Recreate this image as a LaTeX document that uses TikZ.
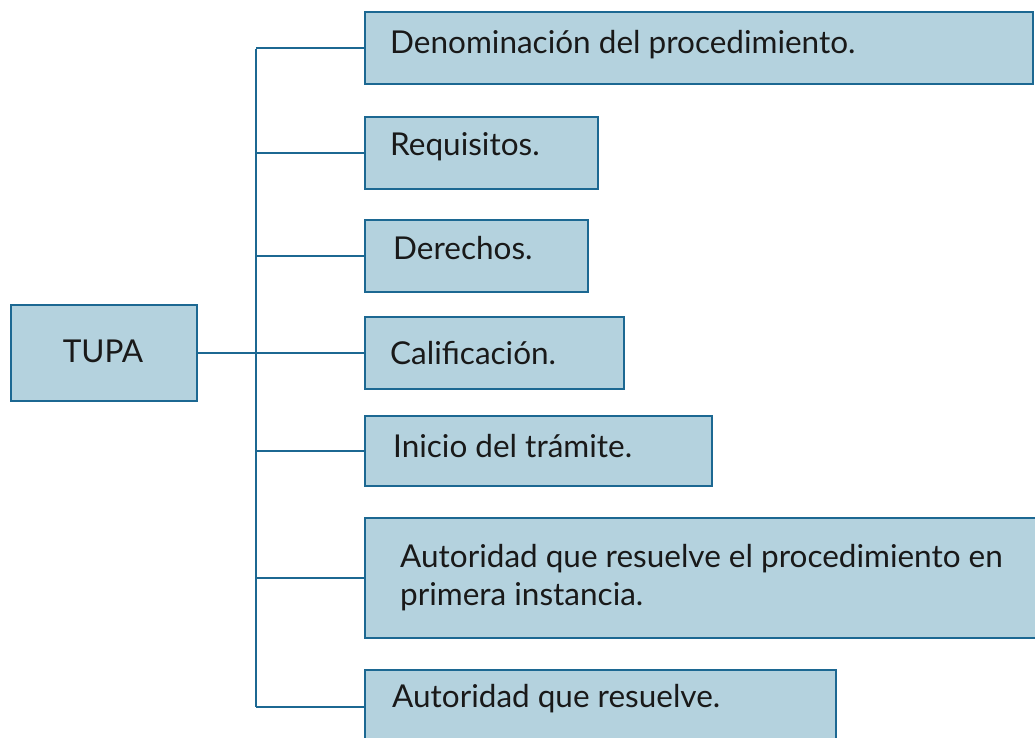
\documentclass[tikz,border=0pt]{standalone}
\usepackage{fontspec}
\setmainfont{Lato}
\definecolor{boxfill}{RGB}{180,210,222}
\definecolor{boxline}{RGB}{28,104,146}
\begin{document}
\begin{tikzpicture}[x=1pt,y=-1pt,
  box/.style={draw=boxline, line width=2.8pt, fill=boxfill, inner sep=0pt, outer sep=0pt, anchor=north west},
  lbl/.style={font=\fontsize{31.5}{38}\selectfont, text=black!90, inner sep=0pt, anchor=base west},
  conn/.style={draw=boxline, line width=2.8pt}]
\useasboundingbox (0,0) rectangle (1035,738);
\clip (0,0) rectangle (1035,738);
\fill[white] (0,0) rectangle (1035,738);
% boxes
\node[box, minimum width=186pt, minimum height=96pt] (tupa) at (11,305) {};
\node[box, minimum width=668pt, minimum height=72pt] (b1) at (365,12) {};
\node[box, minimum width=233pt, minimum height=72pt] (b2) at (365,117) {};
\node[box, minimum width=223pt, minimum height=72pt] (b3) at (365,220) {};
\node[box, minimum width=259pt, minimum height=72pt] (b4) at (365,317) {};
\node[box, minimum width=347pt, minimum height=70pt] (b5) at (365,416) {};
\node[box, minimum width=680pt, minimum height=120pt] (b6) at (365,518) {};
\node[box, minimum width=471pt, minimum height=74pt] (b7) at (365,670) {};
% labels
\node[lbl, anchor=base] (tt) at (103,362) {TUPA};
\node[lbl] (t1) at (390,54) {Denominación del procedimiento.};
\node[lbl] (t2) at (390,156) {Requisitos.};
\node[lbl] (t3) at (393,259) {Derechos.};
\node[lbl] (t4) at (390,364) {Calificación.};
\node[lbl] (t5) at (393,457) {Inicio del trámite.};
\node[lbl] (t6a) at (400,567) {Autoridad que resuelve el procedimiento en};
\node[lbl] (t6b) at (400,605) {primera instancia.};
\node[lbl] (t7) at (392,707) {Autoridad que resuelve.};
% trunk
\coordinate (trtop) at (256,49);
\coordinate (trbot) at (256,707);
\draw[conn] (trtop) -- (trbot);
\draw[conn] (tupa.east) -- (b4.west);
\draw[conn] (b1.west) -- (b1.west -| trtop);
\draw[conn] (b2.west) -- (b2.west -| trtop);
\draw[conn] (b3.west) -- (b3.west -| trtop);
\draw[conn] (b5.west) -- (b5.west -| trtop);
\draw[conn] (b6.west) -- (b6.west -| trtop);
\draw[conn] (b7.west) -- (b7.west -| trtop);
\end{tikzpicture}
\end{document}
